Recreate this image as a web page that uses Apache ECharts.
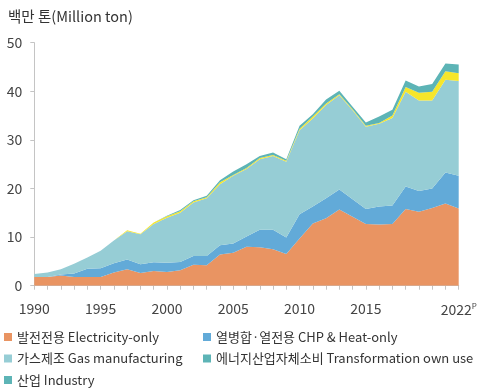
<!DOCTYPE html>
<html>
<head>
<meta charset="utf-8">
<style>
  html, body { margin: 0; padding: 0; background: #fff; }
  #chart { width: 486px; height: 390px; }
</style>
<script src="https://cdn.jsdelivr.net/npm/echarts@6/dist/echarts.min.js"></script>
</head>
<body>
<div id="chart"></div>
<script>
// Years 1990–2022 (2022 provisional)
const years = [];
for (let y = 1990; y <= 2022; y++) years.push(String(y));

const labeledYears = ['1990', '1995', '2000', '2005', '2010', '2015', '2022'];

// Million tons by use
const electricityOnly = [1.8, 1.8, 2.1, 1.8, 1.8, 1.8, 2.7, 3.4, 2.6, 3.0, 2.8, 3.2, 4.3, 4.2, 6.4, 6.8, 8.0, 7.9, 7.5, 6.5, 9.7, 12.8, 13.9, 15.7, 14.2, 12.7, 12.6, 12.7, 15.8, 15.2, 16.0, 16.9, 15.9];
const chpHeatOnly = [0, 0, 0.2, 0.7, 1.7, 1.8, 1.9, 2.0, 1.8, 1.8, 1.9, 1.7, 1.8, 1.9, 1.9, 1.9, 2.1, 3.6, 4.0, 3.4, 5.0, 3.5, 4.1, 4.1, 3.6, 3.1, 3.7, 3.8, 4.6, 4.3, 4.0, 6.4, 6.7];
const gasManufacturing = [0.6, 0.9, 1.1, 2.0, 2.3, 3.6, 4.7, 5.8, 6.2, 7.9, 9.3, 10.1, 11.0, 11.9, 12.6, 13.9, 13.9, 14.5, 15.2, 15.6, 17.3, 18.1, 19.2, 19.4, 18.3, 16.9, 17.0, 18.0, 19.5, 18.6, 18.1, 19.1, 19.5];
const transformationOwnUse = [0, 0, 0, 0, 0, 0, 0, 0.2, 0.1, 0.3, 0.3, 0.3, 0.3, 0.2, 0.4, 0.2, 0.2, 0.3, 0.2, 0.2, 0.3, 0.4, 0.3, 0.2, 0.2, 0.2, 0.2, 0.5, 1.0, 1.6, 1.8, 1.7, 1.6];
const industry = [0, 0, 0, 0, 0, 0, 0, 0, 0, 0, 0.1, 0.3, 0.2, 0.3, 0.4, 0.7, 0.8, 0.4, 0.5, 0.3, 0.6, 0.5, 0.8, 0.7, 0.5, 0.7, 1.3, 1.2, 1.3, 1.3, 1.6, 1.6, 1.8];

const names = [
  '발전전용 Electricity-only',
  '열병합·열전용 CHP & Heat-only',
  '가스제조 Gas manufacturing',
  '에너지산업자체소비 Transformation own use',
  '산업 Industry'
];
const colors = ['#E99462', '#62AAD8', '#96CDD5', '#F6E62B', '#5DB4B6'];
const legendIconColors = ['#E99462', '#62AAD8', '#96CDD5', '#5DB4B6', '#5DB4B6'];
const values = [electricityOnly, chpHeatOnly, gasManufacturing, transformationOwnUse, industry];

const FONT = '"Noto Sans CJK KR", "Noto Sans", sans-serif';

const chart = echarts.init(document.getElementById('chart'), null, { renderer: 'canvas' });

const legendText = { fontFamily: FONT, fontSize: 13, color: '#333', lineHeight: 14 };
function legendItems(idx) {
  return idx.map(i => ({ name: names[i], itemStyle: { color: legendIconColors[i] } }));
}

chart.setOption({
  animation: false,
  backgroundColor: '#fff',
  title: {
    text: '백만 톤(Million ton)',
    left: 3, top: 4,
    textStyle: { fontFamily: FONT, fontSize: 14.5, fontWeight: 'normal', color: '#333' }
  },
  grid: { left: 34.3, right: 27.3, top: 42.7, bottom: 104.3, containLabel: false },
  legend: [
    {
      orient: 'vertical', left: 4, top: 330, itemGap: 7.5,
      itemWidth: 8, itemHeight: 8, icon: 'rect', itemStyle: { borderWidth: 0 },
      textStyle: legendText, padding: 0,
      data: legendItems([0, 2, 4])
    },
    {
      orient: 'vertical', left: 203, top: 330, itemGap: 7.5,
      itemWidth: 8, itemHeight: 8, icon: 'rect', itemStyle: { borderWidth: 0 },
      textStyle: legendText, padding: 0,
      data: legendItems([1, 3])
    }
  ],
  xAxis: {
    type: 'category',
    data: years,
    boundaryGap: false,
    axisLine: { lineStyle: { color: '#c4c4c4', width: 1 } },
    axisTick: { show: true, interval: 0, length: 4, lineStyle: { color: '#c4c4c4' } },
    axisLabel: {
      interval: 0,
      margin: 16,
      fontFamily: FONT, fontSize: 14, color: '#444',
      formatter: v => {
        if (!labeledYears.includes(v)) return '';
        return v === '2022' ? '2022{p|P}' : v;
      },
      rich: { p: { fontFamily: FONT, fontSize: 8, color: '#444', padding: [0, 0, 7, 0] } }
    },
    splitLine: { show: false }
  },
  yAxis: {
    type: 'value',
    min: 0, max: 50, interval: 10,
    axisLine: { show: true, lineStyle: { color: '#c4c4c4', width: 1 } },
    axisTick: { show: true, length: 4, lineStyle: { color: '#c4c4c4' } },
    axisLabel: { margin: 12, fontFamily: FONT, fontSize: 14, color: '#444' },
    splitLine: { show: false }
  },
  series: names.map((n, i) => ({
    name: n,
    type: 'line',
    stack: 'total',
    data: values[i],
    symbol: 'none',
    lineStyle: { width: 0 },
    itemStyle: { color: colors[i] },
    areaStyle: { color: colors[i], opacity: 1 },
    emphasis: { disabled: true }
  }))
});
</script>
</body>
</html>
